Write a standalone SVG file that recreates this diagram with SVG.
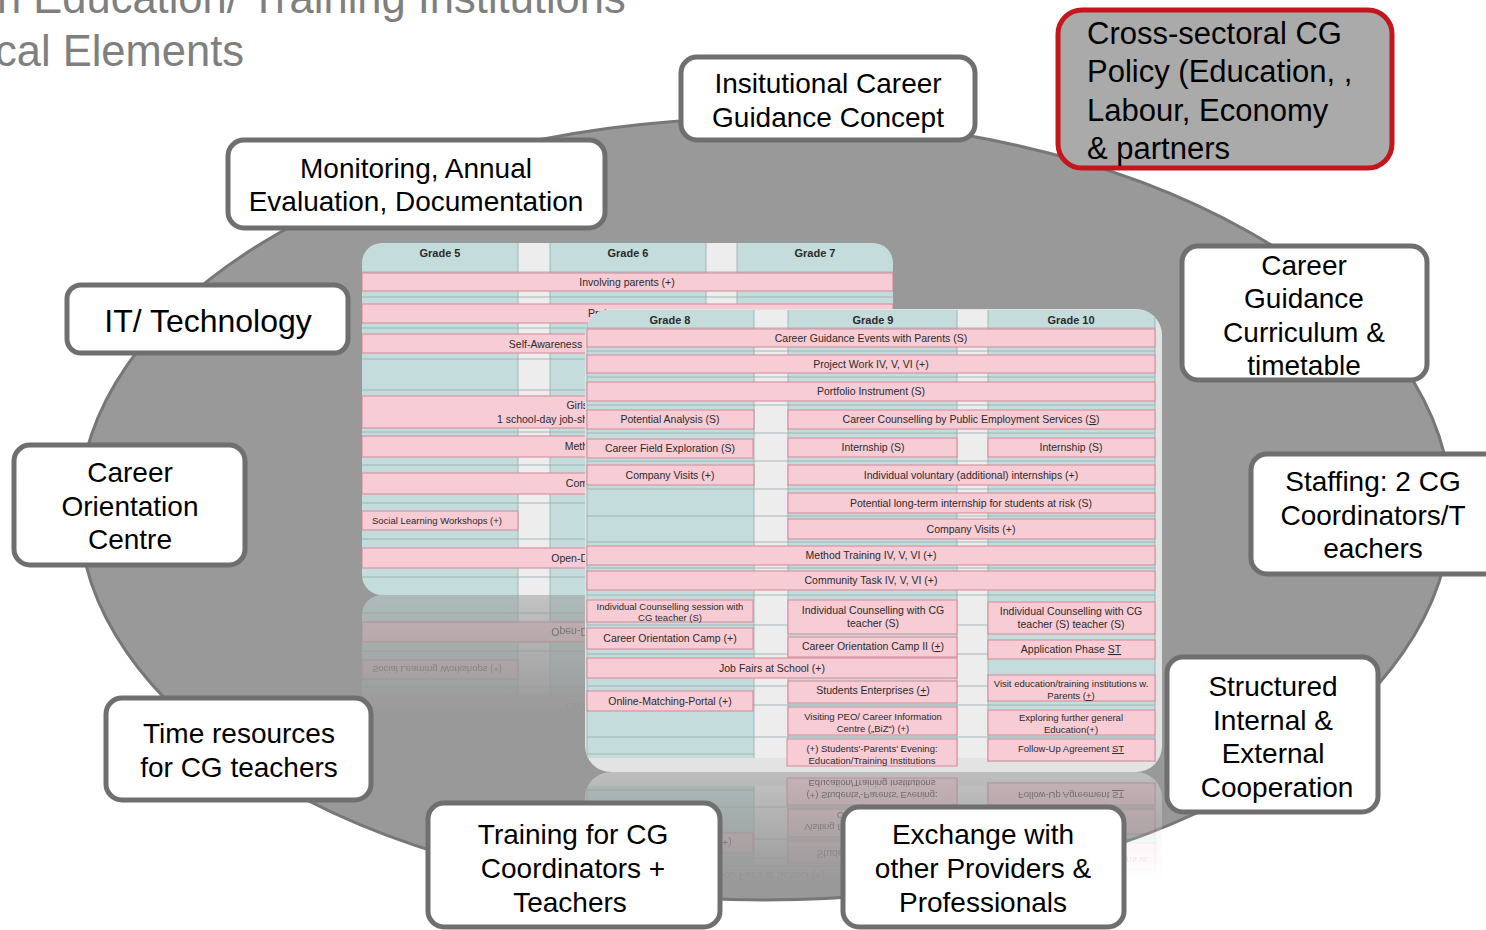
<svg xmlns="http://www.w3.org/2000/svg" width="1486" height="930" viewBox="0 0 1486 930">
<style>
.box rect{fill:#fff;stroke:#6f6f6f;stroke-width:5}
.bt{font-family:"Liberation Sans",Arial,sans-serif;font-size:28px;fill:#000;text-anchor:middle}
.pk{fill:#f8ccd5;stroke:#d48797;stroke-width:1}
.tl{fill:#c4dddc}
.gp{fill:#ededed}
.ln{stroke:#93abab;stroke-width:0.8}
.tt{font-family:"Liberation Sans",Arial,sans-serif;font-size:10.5px;fill:#2a2a2a;text-anchor:middle}
.ts{font-size:9.5px}
.th{font-weight:bold;font-size:11px}
.u{text-decoration:underline}
.title{font-family:"Liberation Sans",Arial,sans-serif;font-size:43.5px;fill:#7f7f7f}
</style>
<defs>
<clipPath id="cB"><rect x="362" y="243" width="531" height="352" rx="20"/></clipPath>
<clipPath id="cF"><rect x="585" y="309" width="577" height="463" rx="26"/></clipPath>
<linearGradient id="fadeB" x1="0" y1="595" x2="0" y2="715" gradientUnits="userSpaceOnUse"><stop offset="0" stop-color="#fff" stop-opacity="0.5"/><stop offset="1" stop-color="#fff" stop-opacity="0"/></linearGradient>
<linearGradient id="fadeF" x1="0" y1="772" x2="0" y2="885" gradientUnits="userSpaceOnUse"><stop offset="0" stop-color="#fff" stop-opacity="0.5"/><stop offset="1" stop-color="#fff" stop-opacity="0"/></linearGradient>
<mask id="mB" maskUnits="userSpaceOnUse" x="0" y="595" width="1486" height="200"><rect x="0" y="595" width="1486" height="200" fill="url(#fadeB)"/></mask>
<mask id="mF" maskUnits="userSpaceOnUse" x="0" y="772" width="1486" height="158"><rect x="0" y="772" width="1486" height="158" fill="url(#fadeF)"/></mask>
</defs>
<rect width="1486" height="930" fill="#fff"/>
<text class="title" x="-3" y="13">n Education/ Training Institutions</text>
<text class="title" x="-5" y="66">cal Elements</text>
<ellipse id="background" cx="765" cy="509" rx="686" ry="391" fill="#999" stroke="#777" stroke-width="3"/>
<g id="backTable" clip-path="url(#cB)">
<rect x="362" y="243" width="531" height="352" class="tl"/>
<rect x="518" y="243" width="32" height="352" class="gp"/>
<rect x="706" y="243" width="31" height="352" class="gp"/>
<g class="ln"><line x1="518" y1="243" x2="518" y2="595"/><line x1="550" y1="243" x2="550" y2="595"/><line x1="706" y1="243" x2="706" y2="595"/><line x1="737" y1="243" x2="737" y2="595"/><line x1="362" y1="272" x2="893" y2="272"/><line x1="362" y1="297" x2="893" y2="297"/><line x1="362" y1="328" x2="893" y2="328"/><line x1="362" y1="359" x2="893" y2="359"/><line x1="362" y1="390" x2="893" y2="390"/><line x1="362" y1="432" x2="893" y2="432"/><line x1="362" y1="465" x2="893" y2="465"/><line x1="362" y1="503" x2="893" y2="503"/><line x1="362" y1="539" x2="893" y2="539"/><line x1="362" y1="577" x2="893" y2="577"/></g>
<text class="tt th" x="440" y="257">Grade 5</text>
<text class="tt th" x="628" y="257">Grade 6</text>
<text class="tt th" x="815" y="257">Grade 7</text>
<rect class="pk" x="362" y="273" width="531" height="18"/>
<text class="tt" x="627" y="286">Involving parents (+)</text>
<rect class="pk" x="362" y="304" width="531" height="19"/>
<text class="tt" x="588" y="317" style="text-anchor:start">Proje</text>
<rect class="pk" x="362" y="334" width="531" height="19"/>
<text class="tt" x="588" y="348" style="text-anchor:end">Self-Awareness /</text>
<rect class="pk" x="362" y="396" width="531" height="32"/>
<text class="tt" x="588" y="409" style="text-anchor:end">Girls</text>
<text class="tt" x="588" y="423" style="text-anchor:end">1 school-day job-sh</text>
<rect class="pk" x="362" y="436" width="531" height="21"/>
<text class="tt" x="588" y="450" style="text-anchor:end">Meth</text>
<rect class="pk" x="362" y="473" width="531" height="21"/>
<text class="tt" x="588" y="487" style="text-anchor:end">Com</text>
<rect class="pk" x="362" y="511" width="156" height="19"/>
<text class="tt ts" x="372" y="524" style="text-anchor:start">Social Learning  Workshops (+)</text>
<rect class="pk" x="362" y="548" width="531" height="20"/>
<text class="tt" x="588" y="562" style="text-anchor:end">Open-D</text>
</g>
<g id="backReflection" mask="url(#mB)"><use href="#backTable" transform="matrix(1 0 0 -1 0 1190)"/></g>
<g id="frontTable" clip-path="url(#cF)">
<rect x="585" y="309" width="577" height="463" fill="#e3e3e3"/>
<rect x="587" y="310" width="167" height="448" class="tl"/>
<rect x="754" y="310" width="34" height="448" class="gp"/>
<rect x="788" y="310" width="169" height="456" class="tl"/>
<rect x="957" y="310" width="31" height="448" class="gp"/>
<rect x="988" y="310" width="167" height="452" class="tl"/>
<g class="ln"><line x1="587" y1="310" x2="587" y2="758"/><line x1="754" y1="310" x2="754" y2="758"/><line x1="788" y1="310" x2="788" y2="766"/><line x1="957" y1="310" x2="957" y2="766"/><line x1="988" y1="310" x2="988" y2="762"/><line x1="1155" y1="310" x2="1155" y2="762"/><line x1="587" y1="754" x2="754" y2="754"/><line x1="587" y1="328" x2="1155" y2="328"/><line x1="587" y1="351" x2="1155" y2="351"/><line x1="587" y1="377" x2="1155" y2="377"/><line x1="587" y1="405" x2="1155" y2="405"/><line x1="587" y1="433" x2="1155" y2="433"/><line x1="587" y1="461" x2="1155" y2="461"/><line x1="587" y1="489" x2="1155" y2="489"/><line x1="587" y1="516" x2="1155" y2="516"/><line x1="587" y1="542" x2="1155" y2="542"/><line x1="587" y1="568" x2="1155" y2="568"/><line x1="587" y1="595" x2="1155" y2="595"/><line x1="587" y1="625" x2="1155" y2="625"/><line x1="587" y1="654" x2="1155" y2="654"/><line x1="587" y1="686" x2="1155" y2="686"/><line x1="587" y1="705" x2="1155" y2="705"/><line x1="587" y1="737" x2="1155" y2="737"/></g>
<text class="tt th" x="670" y="324">Grade 8</text>
<text class="tt th" x="873" y="324">Grade 9</text>
<text class="tt th" x="1071" y="324">Grade 10</text>
<rect class="pk" x="587" y="329" width="568" height="18"/>
<text class="tt" x="871" y="342">Career Guidance Events with Parents (S)</text>
<rect class="pk" x="587" y="355" width="568" height="18"/>
<text class="tt" x="871" y="368">Project Work IV, V, VI (+)</text>
<rect class="pk" x="587" y="382" width="568" height="19"/>
<text class="tt" x="871" y="395">Portfolio Instrument (S)</text>
<rect class="pk" x="587" y="410" width="167" height="19"/>
<text class="tt" x="670" y="423">Potential Analysis (S)</text>
<rect class="pk" x="788" y="410" width="367" height="19"/>
<text class="tt" x="971" y="423">Career Counselling by Public Employment Services (<tspan class="u">S</tspan>)</text>
<rect class="pk" x="587" y="439" width="166" height="19"/>
<text class="tt" x="670" y="452">Career Field Exploration (S)</text>
<rect class="pk" x="788" y="438" width="169" height="19"/>
<text class="tt" x="873" y="451">Internship (S)</text>
<rect class="pk" x="988" y="438" width="167" height="19"/>
<text class="tt" x="1071" y="451">Internship (S)</text>
<rect class="pk" x="587" y="465" width="167" height="20"/>
<text class="tt" x="670" y="479">Company Visits (+)</text>
<rect class="pk" x="788" y="465" width="367" height="20"/>
<text class="tt" x="971" y="479">Individual voluntary (additional) internships  (+)</text>
<rect class="pk" x="788" y="493" width="367" height="20"/>
<text class="tt" x="971" y="507">Potential long-term internship for students at risk (S)</text>
<rect class="pk" x="788" y="519" width="367" height="20"/>
<text class="tt" x="971" y="533">Company Visits (+)</text>
<rect class="pk" x="587" y="546" width="568" height="19"/>
<text class="tt" x="871" y="559">Method Training IV, V, VI (+)</text>
<rect class="pk" x="587" y="571" width="568" height="19"/>
<text class="tt" x="871" y="584">Community Task IV, V, VI (+)</text>
<rect class="pk" x="587" y="600" width="166" height="22"/>
<text class="tt ts" x="670" y="610">Individual Counselling session with</text>
<text class="tt ts" x="670" y="621">CG teacher (S)</text>
<rect class="pk" x="587" y="628" width="166" height="21"/>
<text class="tt" x="670" y="642">Career Orientation Camp (+)</text>
<rect class="pk" x="788" y="600" width="169" height="34"/>
<text class="tt" x="873" y="614">Individual Counselling with CG</text>
<text class="tt" x="873" y="627">teacher (S)</text>
<rect class="pk" x="788" y="637" width="169" height="20"/>
<text class="tt" x="873" y="650">Career Orientation Camp II  (<tspan class="u">+</tspan>)</text>
<rect class="pk" x="988" y="602" width="167" height="32"/>
<text class="tt" x="1071" y="615">Individual Counselling with CG</text>
<text class="tt" x="1071" y="628">teacher (S) teacher (S)</text>
<rect class="pk" x="988" y="640" width="167" height="19"/>
<text class="tt" x="1071" y="653">Application Phase <tspan class="u">ST</tspan></text>
<rect class="pk" x="587" y="658" width="370" height="20"/>
<text class="tt" x="772" y="672">Job Fairs at School (+)</text>
<rect class="pk" x="587" y="691" width="166" height="20"/>
<text class="tt" x="670" y="705">Online-Matching-Portal (+)</text>
<rect class="pk" x="788" y="681" width="169" height="22"/>
<text class="tt" x="873" y="694">Students Enterprises  (<tspan class="u">+</tspan>)</text>
<rect class="pk" x="988" y="675" width="167" height="26"/>
<text class="tt ts" x="1071" y="687">Visit education/training institutions w.</text>
<text class="tt ts" x="1071" y="699">Parents (<tspan class="u">+</tspan>)</text>
<rect class="pk" x="788" y="707" width="169" height="28"/>
<text class="tt ts" x="873" y="720">Visiting PEO/ Career Information</text>
<text class="tt ts" x="873" y="732">Centre („BiZ“)  (+)</text>
<rect class="pk" x="988" y="710" width="167" height="25"/>
<text class="tt ts" x="1071" y="721">Exploring further general</text>
<text class="tt ts" x="1071" y="733">Education(+)</text>
<rect class="pk" x="787" y="739" width="170" height="27"/>
<text class="tt ts" x="872" y="752">(+) Students'-Parents' Evening:</text>
<text class="tt ts" x="872" y="764">Education/Training Institutions</text>
<rect class="pk" x="988" y="739" width="167" height="22"/>
<text class="tt ts" x="1071" y="752">Follow-Up Agreement <tspan class="u">ST</tspan></text>
</g>
<g id="frontReflection" mask="url(#mF)"><use href="#frontTable" transform="matrix(1 0 0 -1 0 1544)"/></g>
<g id="n-concept" class="box"><rect x="681" y="57" width="294" height="83" rx="16"/><text class="bt" x="828" y="93">Insitutional Career</text><text class="bt" x="828" y="127">Guidance Concept</text></g>
<g id="n-monitoring" class="box"><rect x="228" y="140" width="377" height="88" rx="16"/><text class="bt" x="416" y="178">Monitoring, Annual</text><text class="bt" x="416" y="211">Evaluation, Documentation</text></g>
<g id="n-it" class="box"><rect x="67" y="285" width="281" height="68" rx="14"/><text class="bt" x="208" y="332" style="font-size:32px">IT/ Technology</text></g>
<g id="n-centre" class="box"><rect x="14" y="445" width="231" height="120" rx="16"/><text class="bt" x="130" y="482">Career</text><text class="bt" x="130" y="516">Orientation</text><text class="bt" x="130" y="549">Centre</text></g>
<g id="n-time" class="box"><rect x="106" y="698" width="265" height="102" rx="16"/><text class="bt" x="239" y="743">Time resources</text><text class="bt" x="239" y="777">for CG teachers</text></g>
<g id="n-training" class="box"><rect x="428" y="803" width="292" height="124" rx="16"/><text class="bt" x="573" y="844">Training for CG</text><text class="bt" x="573" y="878">Coordinators +</text><text class="bt" x="570" y="912">Teachers</text></g>
<g id="n-exchange" class="box"><rect x="843" y="807" width="281" height="120" rx="16"/><text class="bt" x="983" y="844">Exchange with</text><text class="bt" x="983" y="878">other Providers &amp;</text><text class="bt" x="983" y="912">Professionals</text></g>
<g id="n-cooperation" class="box"><rect x="1167" y="657" width="211" height="155" rx="16"/><text class="bt" x="1273" y="696">Structured</text><text class="bt" x="1273" y="730">Internal &amp;</text><text class="bt" x="1273" y="763">External</text><text class="bt" x="1277" y="797">Cooperation</text></g>
<g id="n-staffing" class="box"><rect x="1251" y="454" width="250" height="120" rx="16"/><text class="bt" x="1373" y="491">Staffing: 2 CG</text><text class="bt" x="1373" y="525">Coordinators/T</text><text class="bt" x="1373" y="558">eachers</text></g>
<g id="n-curriculum" class="box"><rect x="1182" y="246" width="245" height="134" rx="16"/><text class="bt" x="1304" y="275">Career</text><text class="bt" x="1304" y="308">Guidance</text><text class="bt" x="1304" y="342">Curriculum &amp;</text><text class="bt" x="1304" y="375">timetable</text></g>
<g id="n-policy"><rect x="1058" y="10" width="334" height="158" rx="24" fill="#aaa" stroke="#c4161c" stroke-width="5"/><text class="bt" x="1087" y="44" style="font-size:31px;text-anchor:start">Cross-sectoral CG</text><text class="bt" x="1087" y="82" style="font-size:31px;text-anchor:start">Policy (Education, ,</text><text class="bt" x="1087" y="121" style="font-size:31px;text-anchor:start">Labour, Economy</text><text class="bt" x="1087" y="159" style="font-size:31px;text-anchor:start">&amp; partners</text></g>
</svg>
